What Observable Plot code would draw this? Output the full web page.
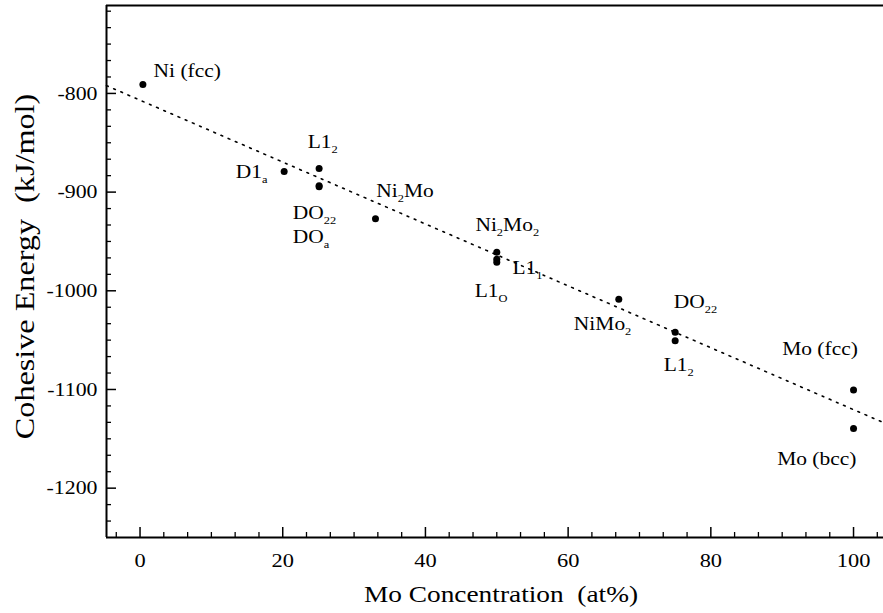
<!DOCTYPE html>
<html><head><meta charset="utf-8">
<script src="https://cdn.jsdelivr.net/npm/d3@7"></script>
<script src="https://cdn.jsdelivr.net/npm/@observablehq/plot@0.6"></script>
<style>
body{margin:0;background:#fff}
svg text, svg tspan{font-family:"Liberation Serif","Times New Roman",serif}
</style>
</head><body><div id="chart"></div>
<script>
// Structures ({..} marks a subscript)
const structure = ["Ni (fcc)", "D1{a}", "L1{2}", "DO{22}", "DO{a}", "Ni{2}Mo", "Ni{2}Mo{2}", "L1{1}", "L1{O}", "NiMo{2}", "DO{22}", "L1{2}", "Mo (fcc)", "Mo (bcc)"];
const moConc = [0.4, 20.2, 25.1, 25.1, 25.1, 33.0, 50.0, 50.0, 50.0, 67.1, 75.0, 75.0, 100.0, 100.0];
const energy = [-791, -879, -876, -893.5, -894.5, -927, -961, -968, -971, -1008.5, -1042, -1050.5, -1100.5, -1139.5];
// label anchors, in data units
const labelX = [1.9, 13.4, 23.5, 21.4, 21.4, 33.1, 47.0, 52.2, 46.9, 60.8, 74.8, 73.4, 90.0, 89.3];
const labelY = [-776.8, -879.3, -849, -921.2, -945, -898.5, -933.3, -976.8, -1000.5, -1033.8, -1011.6, -1074.7, -1059.1, -1170.7];
// fitted trend line end points
const fitX = [-4.7, 104.2];
const fitY = [-792.1, -1133.6];

const xDomain = [-4.7, 104.2];
const yDomain = [-1250, -710.9];
const xMajorTicks = [0, 20, 40, 60, 80, 100];
const xMinorTicks = [-3.33, 3.33, 6.67, 10, 13.33, 16.67, 23.33, 26.67, 30, 33.33, 36.67, 43.33, 46.67, 50, 53.33, 56.67, 63.33, 66.67, 70, 73.33, 76.67, 83.33, 86.67, 90, 93.33, 96.67, 103.33];
const yMajorTicks = [-800, -900, -1000, -1100, -1200];
const yMinorTicks = [-716.67, -733.33, -750, -766.67, -783.33, -816.67, -833.33, -850, -866.67, -883.33, -916.67, -933.33, -950, -966.67, -983.33, -1016.67, -1033.33, -1050, -1066.67, -1083.33, -1116.67, -1133.33, -1150, -1166.67, -1183.33, -1216.67, -1233.33];
const xTitle = "Mo Concentration\u00a0\u00a0(at%)";
const yTitle = "Cohesive Energy\u00a0\u00a0(kJ/mol)";

const idx = structure.map((_, i) => i);
const fitIdx = fitX.map((_, i) => i);
const noLabel = () => "";
const plain = d => String(d);
const serif = "Liberation Serif";

const chart = Plot.plot({
  width: 883, height: 613,
  marginLeft: 106, marginRight: 0, marginTop: 5, marginBottom: 76,
  style: {fontFamily: "'Liberation Serif', 'Times New Roman', serif", background: "#fff", color: "#000"},
  x: {domain: xDomain, label: null},
  y: {domain: yDomain, label: null},
  marks: [
    Plot.ruleX([xDomain[0]], {stroke: "#000", strokeWidth: 2}),
    Plot.ruleY(yDomain, {stroke: "#000", strokeWidth: 2}),
    Plot.axisX({ticks: xMajorTicks, tickSize: 10, dy: -10, tickFormat: noLabel, strokeWidth: 1.5, label: null}),
    Plot.axisX({ticks: xMinorTicks, tickSize: 5, dy: -5, tickFormat: noLabel, strokeWidth: 1.3, label: null}),
    Plot.axisX({ticks: xMajorTicks, tickSize: 0, tickPadding: 16, tickFormat: plain, fontSize: 19.5, fontFamily: serif, label: null}),
    Plot.axisY({ticks: yMajorTicks, tickSize: 10, dx: 10, tickFormat: noLabel, strokeWidth: 1.5, label: null}),
    Plot.axisY({ticks: yMinorTicks, tickSize: 5, dx: 5, tickFormat: noLabel, strokeWidth: 1.3, label: null}),
    Plot.axisY({ticks: yMajorTicks, tickSize: 0, tickPadding: 9, tickFormat: plain, fontSize: 19, fontFamily: serif, label: null}),
    Plot.line(fitIdx, {x: i => fitX[i], y: i => fitY[i], stroke: "#000", strokeWidth: 1.6, strokeDasharray: "1.8,6"}),
    Plot.dot(idx, {x: i => moConc[i], y: i => energy[i], r: 3.5, fill: "#000"}),
    Plot.text(idx, {x: i => labelX[i], y: i => labelY[i], text: i => structure[i], textAnchor: "start", fontSize: 19, fontFamily: serif, fill: "#000"}),
    Plot.text([xTitle], {text: d => d, frameAnchor: "bottom", textAnchor: "middle", lineAnchor: "bottom", dx: 6, dy: 64.7, fontSize: 23, fontFamily: serif, fill: "#000"}),
    Plot.text([yTitle], {text: d => d, frameAnchor: "left", textAnchor: "middle", rotate: -90, lineAnchor: "bottom", dx: -73, dy: -5, fontSize: 28, fontFamily: serif, fill: "#000"})
  ]
});

const textGroups = chart.querySelectorAll('g[aria-label="text"]');
const [labelGroup, xTitleGroup, yTitleGroup] = textGroups;

// subscripts
const NS = "http://www.w3.org/2000/svg";
labelGroup.querySelectorAll("text").forEach(t => {
  const s = t.textContent;
  if (!s.includes("{")) return;
  t.textContent = "";
  const parts = s.split(/(\{[^}]*\})/).filter(p => p.length);
  let shifted = false;
  parts.forEach(p => {
    const ts = document.createElementNS(NS, "tspan");
    if (p.startsWith("{")) {
      ts.textContent = p.slice(1, -1);
      ts.setAttribute("font-size", "11");
      ts.setAttribute("dy", "5");
      shifted = true;
    } else {
      ts.textContent = p;
      if (shifted) { ts.setAttribute("dy", "-5"); shifted = false; }
    }
    t.appendChild(ts);
  });
});

// horizontal stretch of the serif type, as in the scanned figure
function stretch(elems, s) {
  elems.forEach(t => {
    const tr = t.getAttribute("transform") || "";
    const x = t.getAttribute("x");
    let pre = "";
    if (x && x !== "0") { pre = `translate(${x},0) `; t.setAttribute("x", 0); }
    t.setAttribute("transform", `${tr} ${pre}scale(${s},1)`);
  });
}
stretch(chart.querySelectorAll('g[aria-label="x-axis tick label"] text'), 1.15);
stretch(chart.querySelectorAll('g[aria-label="y-axis tick label"] text'), 1.15);
stretch(labelGroup.querySelectorAll("text"), 1.13);
stretch(xTitleGroup.querySelectorAll("text"), 1.19);
stretch(yTitleGroup.querySelectorAll("text"), 1.15);

document.getElementById("chart").appendChild(chart);
</script>
</body></html>
